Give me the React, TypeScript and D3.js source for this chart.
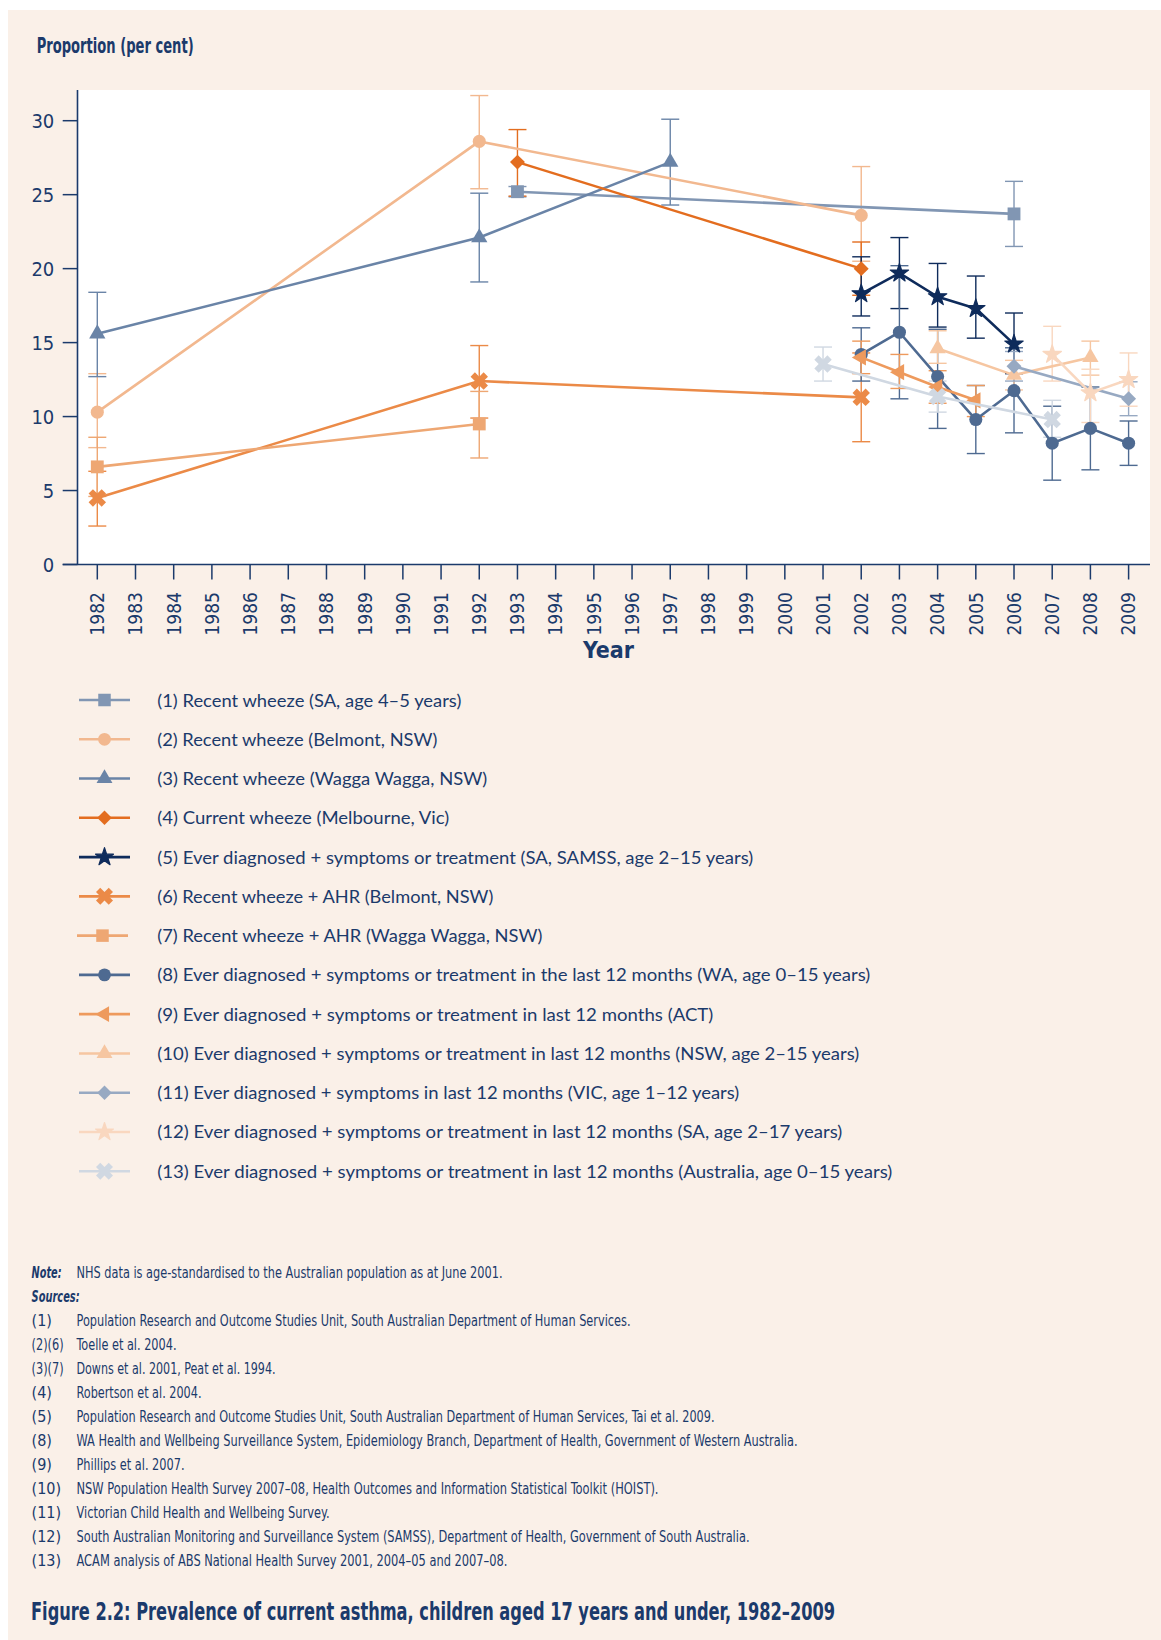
import React from 'react';
import * as d3 from 'd3';

// ---------- data ----------
type Pt = [number, number, number, number]; // year, value, low CI, high CI

const yearTicks = [1982, 1983, 1984, 1985, 1986, 1987, 1988, 1989, 1990, 1991, 1992, 1993, 1994, 1995, 1996, 1997, 1998, 1999, 2000, 2001, 2002, 2003, 2004, 2005, 2006, 2007, 2008, 2009];
const valueTicks = [0, 5, 10, 15, 20, 25, 30];

const s1RecentWheezeSA: Pt[] = [[1993, 25.2, 24.85, 25.55], [2006, 23.7, 21.5, 25.9]];
const s2RecentWheezeBelmont: Pt[] = [[1982, 10.3, 7.9, 12.9], [1992, 28.6, 25.4, 31.7], [2002, 23.6, 20.5, 26.9]];
const s3RecentWheezeWagga: Pt[] = [[1982, 15.6, 12.7, 18.4], [1992, 22.1, 19.1, 25.1], [1997, 27.2, 24.3, 30.1]];
const s4CurrentWheezeMelbourne: Pt[] = [[1993, 27.2, 24.9, 29.4], [2002, 20.0, 18.2, 21.8]];
const s5SAMSS: Pt[] = [[2002, 18.3, 16.8, 20.8], [2003, 19.7, 17.3, 22.1], [2004, 18.1, 16.05, 20.35], [2005, 17.3, 15.3, 19.5], [2006, 14.9, 12.9, 17.0]];
const s6AHRBelmont: Pt[] = [[1982, 4.5, 2.6, 6.3], [1992, 12.4, 9.9, 14.8], [2002, 11.3, 8.3, 14.3]];
const s7AHRWagga: Pt[] = [[1982, 6.6, 4.6, 8.6], [1992, 9.5, 7.2, 11.7]];
const s8WA: Pt[] = [[2002, 14.2, 12.4, 16.0], [2003, 15.7, 11.2, 20.2], [2004, 12.7, 9.2, 15.9], [2005, 9.8, 7.5, 12.1], [2006, 11.75, 8.9, 14.65], [2007, 8.2, 5.7, 10.7], [2008, 9.2, 6.4, 12.0], [2009, 8.2, 6.7, 9.7]];
const s9ACT: Pt[] = [[2002, 14.0, 12.9, 15.1], [2003, 13.0, 11.9, 14.2], [2004, 12.0, 10.9, 13.1], [2005, 11.1, 10.0, 12.1]];
const s10NSW: Pt[] = [[2004, 14.6, 13.6, 15.8], [2006, 12.8, 11.8, 13.8], [2008, 14.0, 12.8, 15.1]];
const s11VIC: Pt[] = [[2006, 13.4, 12.4, 14.4], [2009, 11.2, 10.06, 12.35]];
const s12SA: Pt[] = [[2007, 14.2, 12.4, 16.1], [2008, 11.6, 9.6, 13.2], [2009, 12.5, 10.7, 14.3]];
const s13Australia: Pt[] = [[2001, 13.55, 12.4, 14.7], [2004, 11.35, 10.3, 12.4], [2007, 9.8, 8.6, 11.1]];

const seriesLabels = [
  '(1) Recent wheeze (SA, age 4–5 years)',
  '(2) Recent wheeze (Belmont, NSW)',
  '(3) Recent wheeze (Wagga Wagga, NSW)',
  '(4) Current wheeze (Melbourne, Vic)',
  '(5) Ever diagnosed + symptoms or treatment (SA, SAMSS, age 2–15 years)',
  '(6) Recent wheeze + AHR (Belmont, NSW)',
  '(7) Recent wheeze + AHR (Wagga Wagga, NSW)',
  '(8) Ever diagnosed + symptoms or treatment in the last 12 months (WA, age 0–15 years)',
  '(9) Ever diagnosed + symptoms or treatment in last 12 months (ACT)',
  '(10) Ever diagnosed + symptoms or treatment in last 12 months (NSW, age 2–15 years)',
  '(11) Ever diagnosed + symptoms in last 12 months (VIC, age 1–12 years)',
  '(12) Ever diagnosed + symptoms or treatment in last 12 months (SA, age 2–17 years)',
  '(13) Ever diagnosed + symptoms or treatment in last 12 months (Australia, age 0–15 years)',
];

const noteText = 'NHS data is age-standardised to the Australian population as at June 2001.';
const sourceKeys = ['(1)', '(2)(6)', '(3)(7)', '(4)', '(5)', '(8)', '(9)', '(10)', '(11)', '(12)', '(13)'];
const sourceTexts = [
  'Population Research and Outcome Studies Unit, South Australian Department of Human Services.',
  'Toelle et al. 2004.',
  'Downs et al. 2001, Peat et al. 1994.',
  'Robertson et al. 2004.',
  'Population Research and Outcome Studies Unit, South Australian Department of Human Services, Tai et al. 2009.',
  'WA Health and Wellbeing Surveillance System, Epidemiology Branch, Department of Health, Government of Western Australia.',
  'Phillips et al. 2007.',
  'NSW Population Health Survey 2007–08, Health Outcomes and Information Statistical Toolkit (HOIST).',
  'Victorian Child Health and Wellbeing Survey.',
  'South Australian Monitoring and Surveillance System (SAMSS), Department of Health, Government of South Australia.',
  'ACAM analysis of ABS National Health Survey 2001, 2004–05 and 2007–08.',
];
const figureTitle = 'Figure 2.2: Prevalence of current asthma, children aged 17 years and under, 1982–2009';

const allSeries: Pt[][] = [s1RecentWheezeSA, s2RecentWheezeBelmont, s3RecentWheezeWagga, s4CurrentWheezeMelbourne, s5SAMSS, s6AHRBelmont, s7AHRWagga, s8WA, s9ACT, s10NSW, s11VIC, s12SA, s13Australia];

// ---------- styles ----------
const seriesStyle = [
  { color: '#8196b3', shape: 'square' },
  { color: '#f2b88f', shape: 'circle' },
  { color: '#6a84a7', shape: 'triangle' },
  { color: '#e36d1f', shape: 'diamond' },
  { color: '#0e2b5b', shape: 'star' },
  { color: '#eb8a47', shape: 'x' },
  { color: '#eea773', shape: 'square' },
  { color: '#4e6a91', shape: 'circle' },
  { color: '#ee9a5d', shape: 'left' },
  { color: '#f6c6a1', shape: 'triangle' },
  { color: '#97a9c2', shape: 'diamond' },
  { color: '#f9d7bf', shape: 'star' },
  { color: '#d0d8e2', shape: 'x' },
];
const legendTextWidths = [304, 280, 330, 292, 596, 336, 385, 713, 556, 702, 582, 685, 735];
const sourceTextWidths = [554, 100, 199, 125, 638, 721, 108, 582, 253, 673, 431];
const sourceKeyWidths = [0, 32, 32, 0, 0, 0, 0, 0, 0, 0, 0];

const NAVY = '#1b3a6b';
const BG = '#faf0e8';
const COND = "'Liberation Sans Narrow', 'DejaVu Sans Condensed', 'Arial Narrow', 'Roboto Condensed', sans-serif";
const REG = "Lato, 'Open Sans', 'Noto Sans', sans-serif";

const symbolSpec: Record<string, { type: d3.SymbolType; size: number; rot: number; stroke: number }> = {
  square: { type: d3.symbolSquare, size: 165, rot: 0, stroke: 0 },
  circle: { type: d3.symbolCircle, size: 135, rot: 0, stroke: 0 },
  triangle: { type: d3.symbolTriangle, size: 115, rot: 0, stroke: 0 },
  diamond: { type: d3.symbolSquare, size: 112, rot: 45, stroke: 0 },
  star: { type: d3.symbolStar, size: 105, rot: 0, stroke: 1.2 },
  x: { type: d3.symbolCross, size: 190, rot: 45, stroke: 0 },
  left: { type: d3.symbolTriangle, size: 115, rot: -90, stroke: 0 },
};

const PLOT = { left: 77.5, top: 90, right: 1150, bottom: 564.5 };

export default function App() {
  const x = d3.scaleLinear().domain([1982, 2009]).range([97.3, 1128.6]);
  const y = d3.scaleLinear().domain([0, 30]).range([564.5, 120.7]);
  const line = d3.line<Pt>().x((d) => x(d[0])).y((d) => y(d[1]));
  const sym = (shape: string, scale = 1) => {
    const s = symbolSpec[shape];
    return { d: d3.symbol(s.type, s.size * scale)() || '', rot: s.rot, stroke: s.stroke };
  };
  const capW = 9;

  const legendY0 = 700;
  const legendStep = 39.27;
  const notesY0 = 1273.3;
  const notesStep = 24.0;

  return (
    <svg width={1161} height={1640} style={{ position: 'absolute', left: 0, top: 0 }}>
      <rect x={0} y={0} width={1161} height={1640} fill="#ffffff" />
      <rect x={8} y={10} width={1153} height={1630} fill={BG} />
      <rect x={PLOT.left} y={PLOT.top} width={PLOT.right - PLOT.left} height={PLOT.bottom - PLOT.top} fill="#ffffff" />

      <text x={36.7} y={53} fill={NAVY} fontFamily={COND} fontWeight="bold" fontSize={21} textLength={157} lengthAdjust="spacingAndGlyphs">Proportion (per cent)</text>

      {/* y axis */}
      <line x1={PLOT.left} x2={PLOT.left} y1={PLOT.top} y2={PLOT.bottom} stroke={NAVY} strokeWidth={1.6} />
      {valueTicks.map((t) => (
        <g key={'yt' + t}>
          <line x1={62.7} x2={PLOT.left} y1={y(t)} y2={y(t)} stroke={NAVY} strokeWidth={1.5} />
          <text x={54.3} y={y(t)} dy="0.36em" textAnchor="end" fill={NAVY} fontFamily={COND} fontSize={20}>{t}</text>
        </g>
      ))}
      {/* x axis */}
      <line x1={62.7} x2={PLOT.right} y1={PLOT.bottom} y2={PLOT.bottom} stroke={NAVY} strokeWidth={1.6} />
      {yearTicks.map((yr) => (
        <g key={'xt' + yr}>
          <line x1={x(yr)} x2={x(yr)} y1={PLOT.bottom} y2={PLOT.bottom + 15} stroke={NAVY} strokeWidth={1.5} />
          <text transform={`translate(${x(yr)},592) rotate(-90)`} dy="0.36em" textAnchor="end" fill={NAVY} fontFamily={COND} fontSize={19}>{yr}</text>
        </g>
      ))}
      <text x={608.5} y={658} textAnchor="middle" fill={NAVY} fontFamily={COND} fontWeight="bold" fontSize={23}>Year</text>

      {/* error bars */}
      {allSeries.map((ser, i) => (
        <g key={'eb' + i} stroke={seriesStyle[i].color} strokeWidth={1.4} fill="none">
          {ser.map((p, j) => (
            <g key={j}>
              <line x1={x(p[0])} x2={x(p[0])} y1={y(p[2])} y2={y(p[3])} />
              <line x1={x(p[0]) - capW} x2={x(p[0]) + capW} y1={y(p[2])} y2={y(p[2])} />
              <line x1={x(p[0]) - capW} x2={x(p[0]) + capW} y1={y(p[3])} y2={y(p[3])} />
            </g>
          ))}
        </g>
      ))}

      {/* lines and markers */}
      {allSeries.map((ser, i) => {
        const st = seriesStyle[i];
        const m = sym(st.shape);
        return (
          <g key={'s' + i}>
            <path d={line(ser) || ''} fill="none" stroke={st.color} strokeWidth={2.6} strokeLinejoin="round" />
            {ser.map((p, j) => (
              <path key={j} d={m.d} transform={`translate(${x(p[0])},${y(p[1])}) rotate(${m.rot})`} fill={st.color}
                stroke={m.stroke ? st.color : 'none'} strokeWidth={m.stroke} strokeLinejoin="round" />
            ))}
          </g>
        );
      })}

      {/* legend */}
      {seriesLabels.map((lab, i) => {
        const st = seriesStyle[i];
        const m = sym(st.shape, 0.95);
        const ly = legendY0 + i * legendStep;
        const mx = i === 6 ? 102.5 : 104.5;
        return (
          <g key={'lg' + i}>
            <line x1={i === 6 ? 77 : 79} x2={i === 6 ? 128 : 130} y1={ly} y2={ly} stroke={st.color} strokeWidth={2.6} />
            <path d={m.d} transform={`translate(${mx},${ly}) rotate(${m.rot})`} fill={st.color}
              stroke={m.stroke ? st.color : 'none'} strokeWidth={m.stroke} strokeLinejoin="round" />
            <text x={157.3} y={ly + 6.5} fill={NAVY} fontFamily={REG} fontSize={18} textLength={legendTextWidths[i]} lengthAdjust="spacingAndGlyphs">{lab}</text>
          </g>
        );
      })}

      {/* notes */}
      <text x={31.6} y={notesY0 + 5} fill={NAVY} fontFamily={COND} fontSize={16} fontWeight="bold" fontStyle="italic" textLength={30} lengthAdjust="spacingAndGlyphs">Note:</text>
      <text x={76.5} y={notesY0 + 5} fill={NAVY} fontFamily={COND} fontSize={16} textLength={426} lengthAdjust="spacingAndGlyphs">{noteText}</text>
      <text x={31.6} y={notesY0 + notesStep + 5} fill={NAVY} fontFamily={COND} fontSize={16} fontWeight="bold" fontStyle="italic" textLength={48} lengthAdjust="spacingAndGlyphs">Sources:</text>
      {sourceKeys.map((k, i) => {
        const ny = notesY0 + (i + 2) * notesStep + 5;
        const kw = sourceKeyWidths[i];
        return (
          <g key={'src' + i}>
            {kw ? (
              <text x={31.6} y={ny} fill={NAVY} fontFamily={COND} fontSize={16} textLength={kw} lengthAdjust="spacingAndGlyphs">{k}</text>
            ) : (
              <text x={31.6} y={ny} fill={NAVY} fontFamily={COND} fontSize={16}>{k}</text>
            )}
            <text x={76.5} y={ny} fill={NAVY} fontFamily={COND} fontSize={16} textLength={sourceTextWidths[i]} lengthAdjust="spacingAndGlyphs">{sourceTexts[i]}</text>
          </g>
        );
      })}

      <text x={31} y={1620} fill={NAVY} fontFamily={COND} fontWeight="bold" fontSize={24} textLength={804} lengthAdjust="spacingAndGlyphs">{figureTitle}</text>
    </svg>
  );
}
